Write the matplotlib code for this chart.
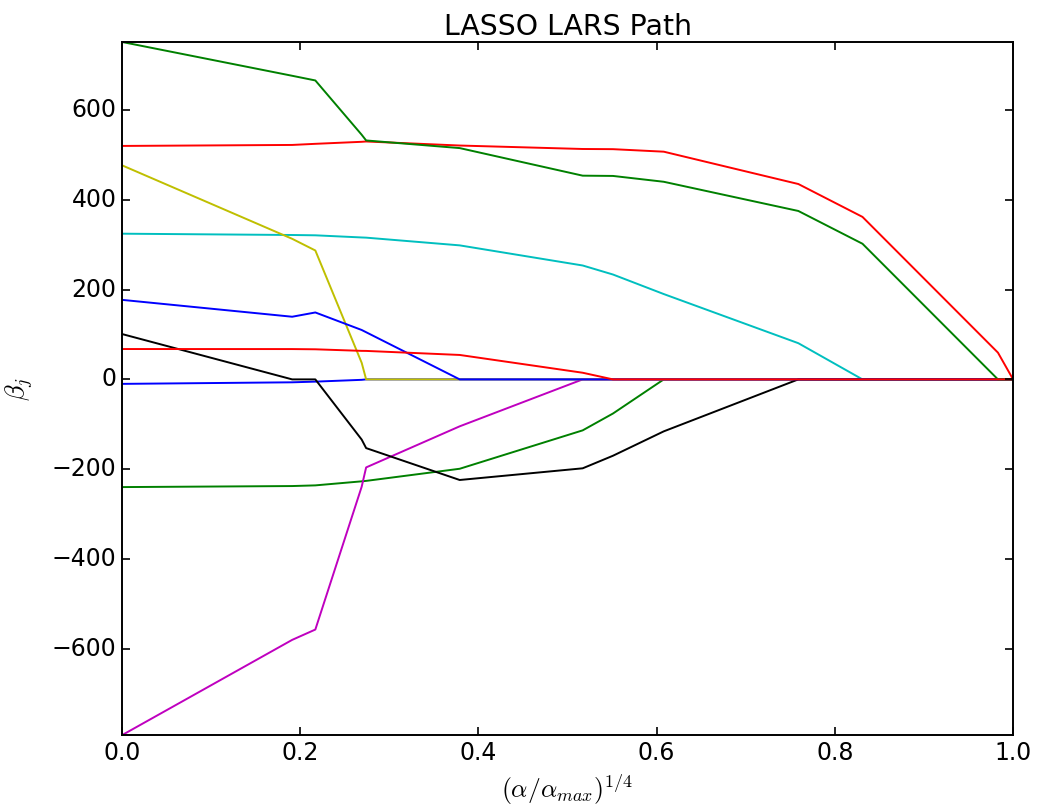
import matplotlib
matplotlib.use('Agg')
import matplotlib.pyplot as plt
import numpy as np

plt.style.use('classic')
plt.rcParams['font.size'] = 17
plt.rcParams['lines.linewidth'] = 1.4
plt.rcParams['axes.linewidth'] = 1.4

# x positions of the path breakpoints, (alpha/alpha_max)^(1/4)
xx = [0.0, 0.191, 0.217, 0.269, 0.274, 0.379, 0.517, 0.551, 0.608, 0.759, 0.831, 0.983, 1.0]

# coefficient paths (one list per feature, same order as xx)
age = [-10.0, -6.5, -5.0, -1.0, 0, 0, 0, 0, 0, 0, 0, 0, 0]
sex = [-239.8, -237.5, -236.0, -227.0, -226.0, -199.0, -113.5, -76.0, 0, 0, 0, 0, 0]
bmi = [519.8, 522.0, 524.5, 529.0, 529.7, 520.7, 513.0, 512.6, 507.0, 435.0, 361.8, 59.6, 0]
bp = [324.4, 321.5, 320.8, 316.0, 315.6, 298.4, 253.6, 233.5, 190.0, 80.6, 0, 0, 0]
s1 = [-792.2, -580.0, -557.0, -239.0, -196.0, -104.5, 0, 0, 0, 0, 0, 0, 0]
s2 = [476.7, 313.0, 287.0, 37.0, 0, 0, 0, 0, 0, 0, 0, 0, 0]
s3 = [101.0, 0, 0, -134.0, -153.0, -224.0, -198.0, -170.0, -115.7, 0, 0, 0, 0]
s4 = [177.1, 139.5, 149.0, 110.0, 105.0, 0, 0, 0, 0, 0, 0, 0, 0]
s5 = [751.3, 676.0, 665.6, 544.7, 532.0, 515.0, 453.6, 453.0, 440.0, 375.0, 302.0, 0, 0]
s6 = [67.6, 67.5, 67.0, 63.5, 63.4, 54.4, 14.8, 0, 0, 0, 0, 0, 0]

coefs = np.array([age, sex, bmi, bp, s1, s2, s3, s4, s5, s6]).T

fig = plt.figure(figsize=(10.38, 8.07), dpi=100, facecolor='white')
ax = fig.add_subplot(111)
fig.subplots_adjust(left=0.1175, right=0.976, top=0.948, bottom=0.089)

ax.plot(xx, coefs)
ax.axis('tight')

ax.tick_params(which='major', length=6, width=1.2)
ax.set_xlabel(r'$(\alpha/\alpha_{max})^{1/4}$', fontsize=18.5, labelpad=6)
ax.set_ylabel(r'$\beta_j$', fontsize=19, labelpad=12)
ax.set_title('LASSO LARS Path')

fig.savefig('out.png', dpi=100, facecolor='white')
